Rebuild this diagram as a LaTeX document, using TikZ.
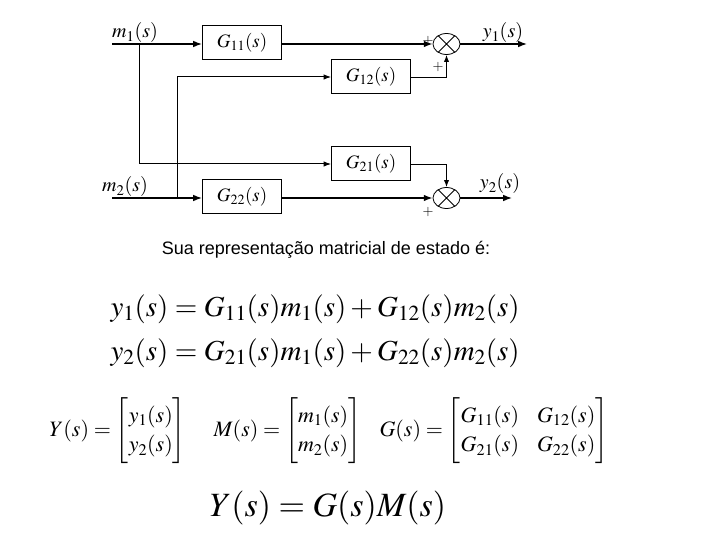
\documentclass[tikz,border=0pt]{standalone}
\usepackage{amsmath}
\usepackage{mathptmx}
\usepackage{fontspec}
\setmainfont{Liberation Serif}
\setsansfont{Liberation Sans}
\usetikzlibrary{arrows.meta,shapes.geometric}

\begin{document}
\begin{tikzpicture}[x=1pt,y=-1pt,>=Latex,
  blk/.style={draw,line width=1pt,minimum width=79pt,minimum height=34pt,inner sep=0pt,font=\fontsize{19}{21}\selectfont},
  sumj/.style={draw,ellipse,line width=0.8pt,minimum width=27pt,minimum height=21pt,inner sep=0pt},
  sig/.style={line width=1.3pt},
  lbl/.style={font=\fontsize{20}{22}\selectfont},
  sgn/.style={font=\fontsize{14}{15}\selectfont,inner sep=0pt},
  mtx/.style={anchor=west,font=\fontsize{22}{26}\selectfont}]
  \useasboundingbox (0,0) rectangle (720,540);

  \coordinate (m1in) at (112,44);
  \coordinate (m2in) at (112,198);
  \coordinate (b1) at (139,44);
  \coordinate (b2) at (177,198);
  \coordinate (y1out) at (527,44);
  \coordinate (y2out) at (512,198);

  \node[blk] (g11) at (242,43) {$G_{11}(s)$};
  \node[blk] (g12) at (371,77) {$G_{12}(s)$};
  \node[blk] (g21) at (371,164) {$G_{21}(s)$};
  \node[blk] (g22) at (242,197) {$G_{22}(s)$};
  \node[sumj] (sum1) at (446.5,44) {};
  \node[sumj] (sum2) at (446.5,198) {};
  \draw[line width=0.8pt] (sum1.45) -- (sum1.225) (sum1.135) -- (sum1.315);
  \draw[line width=0.8pt] (sum2.45) -- (sum2.225) (sum2.135) -- (sum2.315);

  \draw[sig,->] (m1in) -- (m1in -| g11.west);
  \draw[sig,->] (m2in) -- (m2in -| g22.west);
  \draw[sig,->] (g11.east |- m1in) -- (sum1);
  \draw[sig,->] (g22.east |- m2in) -- (sum2);
  \draw[line width=1pt,->] (b1) |- (g21);
  \draw[line width=1pt,->] (b2) |- (g12);
  \draw[line width=0.9pt,->] (g12) -| (sum1);
  \draw[line width=0.9pt,->] (g21) -| (sum2);
  \draw[sig,->] (sum1) -- (y1out);
  \draw[sig,->] (sum2) -- (y2out);

  \node[lbl] (m1lbl) at (135,33) {$m_1(s)$};
  \node[lbl] (m2lbl) at (125,187) {$m_2(s)$};
  \node[lbl] (y1lbl) at (503,33) {$y_1(s)$};
  \node[lbl] (y2lbl) at (500,184) {$y_2(s)$};
  \node[sgn] (p1) at (428,41) {$+$};
  \node[sgn] (p2) at (438,67) {$+$};
  \node[sgn] (p3) at (428,212) {$+$};

  \node[font=\sffamily\fontsize{18}{20}\selectfont] (txt) at (326,250) {Sua representação matricial de estado é:};

  \node[anchor=west,font=\fontsize{29}{33}\selectfont] (eq1) at (107,309) {$y_1(s)=G_{11}(s)m_1(s)+G_{12}(s)m_2(s)$};
  \node[anchor=west,font=\fontsize{29}{33}\selectfont] (eq2) at (107,353) {$y_2(s)=G_{21}(s)m_1(s)+G_{22}(s)m_2(s)$};

  \node[mtx] (ymat) at (46,431)
    {$Y(s)=\renewcommand{\arraystretch}{1.15}\begin{bmatrix} y_1(s)\\ y_2(s)\end{bmatrix}$};
  \node[mtx] (mmat) at (210,431)
    {$M(s)=\renewcommand{\arraystretch}{1.15}\begin{bmatrix} m_1(s)\\ m_2(s)\end{bmatrix}$};
  \node[mtx] (gmat) at (376,431)
    {$G(s)=\renewcommand{\arraystretch}{1.15}\setlength{\arraycolsep}{9pt}\begin{bmatrix} G_{11}(s) & G_{12}(s)\\ G_{21}(s) & G_{22}(s)\end{bmatrix}$};

  \node[font=\fontsize{34}{38}\selectfont] (final) at (328,508) {$Y(s)=G(s)M(s)$};
\end{tikzpicture}
\end{document}
